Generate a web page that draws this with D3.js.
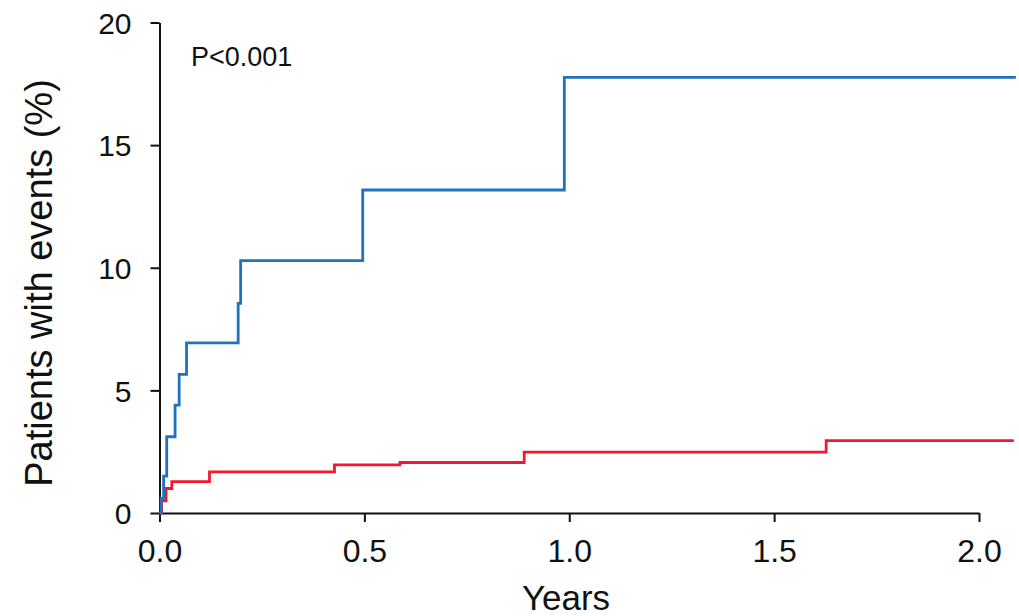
<!DOCTYPE html>
<html>
<head>
<meta charset="utf-8">
<script src="https://cdn.jsdelivr.net/npm/d3@7"></script>
<style>
  html, body { margin: 0; padding: 0; background: #ffffff; }
  svg { display: block; font-family: "Liberation Sans", Arial, sans-serif; }
</style>
</head>
<body>
<svg id="chart" width="1019" height="616"></svg>
<script>
// ---- Data ----
const xTicks = [0, 0.5, 1.0, 1.5, 2.0];
const yTicks = [0, 5, 10, 15, 20];

// Blue group: cumulative % of patients with events (step after each time)
const blueTimes  = [0, 0.004, 0.010, 0.0176, 0.038, 0.048, 0.066, 0.192, 0.198, 0.496, 0.988, 2.09];
const blueValues = [0, 0.6,   1.5,   3.11,   4.40,  5.65,  6.94,  8.55,  10.29, 13.17, 17.76, 17.76];

// Red group
const redTimes  = [0, 0.005, 0.016, 0.030, 0.122, 0.427, 0.587, 0.890, 1.627, 2.085];
const redValues = [0, 0.5,   1.00,  1.28,  1.68,  1.96,  2.06,  2.48,  2.95,  2.95];

const pLabel = "P<0.001";
const xTitle = "Years";
const yTitle = "Patients with events (%)";

// ---- Layout ----
const svg = d3.select("#chart");
const x = d3.scaleLinear().domain([0, 2]).range([159.5, 979]);
const y = d3.scaleLinear().domain([0, 20]).range([513, 22.5]);

// Axes
const yAxis = d3.axisLeft(y).tickValues(yTicks).tickFormat(d3.format("d"))
  .tickSize(9).tickSizeOuter(0).tickPadding(19);
const xAxis = d3.axisBottom(x).tickValues(xTicks).tickFormat(d3.format(".1f"))
  .tickSize(9).tickSizeOuter(0).tickPadding(17);

const gy = svg.append("g").attr("transform", `translate(${x(0)},0)`).call(yAxis);
const gx = svg.append("g").attr("transform", `translate(0,${y(0)})`).call(xAxis);

[gx, gy].forEach(g => {
  g.select(".domain").attr("stroke", "#111").attr("stroke-width", 2);
  g.selectAll(".tick line").attr("stroke", "#111").attr("stroke-width", 2);
  g.selectAll(".tick text").attr("fill", "#111")
    .style("font-family", "'Liberation Sans', Arial, sans-serif");
});
gy.selectAll(".tick text").style("font-size", "30px").attr("dy", "0.36em");
gx.selectAll(".tick text").style("font-size", "32px").attr("dy", "0.72em");

// Lines
const line = d3.line().curve(d3.curveStepAfter).x(d => x(d[0])).y(d => y(d[1]));
const bluePts = blueTimes.map((t, i) => [t, blueValues[i]]);
const redPts = redTimes.map((t, i) => [t, redValues[i]]);

svg.append("path").datum(redPts).attr("d", line)
  .attr("fill", "none").attr("stroke", "#f2182e").attr("stroke-width", 2.8)
  .attr("stroke-linejoin", "miter");
svg.append("path").datum(bluePts).attr("d", line)
  .attr("fill", "none").attr("stroke", "#1f72bf").attr("stroke-width", 2.8)
  .attr("stroke-linejoin", "miter");

// Texts
svg.append("text").attr("x", 191).attr("y", 66).text(pLabel)
  .style("font-size", "27px").attr("fill", "#111");

svg.append("text").attr("x", 566).attr("y", 610).attr("text-anchor", "middle")
  .text(xTitle).style("font-size", "35px").attr("fill", "#111");

svg.append("text").attr("transform", `translate(52,283) rotate(-90)`)
  .attr("text-anchor", "middle").text(yTitle)
  .style("font-size", "38px").attr("fill", "#111");
</script>
</body>
</html>
